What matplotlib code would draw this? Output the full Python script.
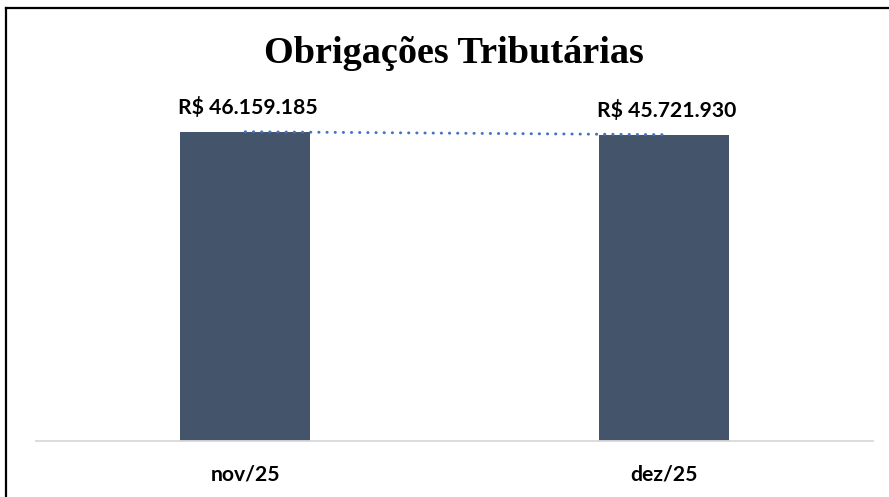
import matplotlib
matplotlib.use("Agg")
import matplotlib.pyplot as plt
import numpy as np
from matplotlib.lines import Line2D

categories = ["nov/25", "dez/25"]
values = [46159185, 45721930]
value_labels = ["R$ 46.159.185", "R$ 45.721.930"]
title = "Obrigações Tributárias"

W, H = 889, 497
fig = plt.figure(figsize=(W / 100, H / 100), dpi=100)
fig.patch.set_facecolor("white")

# axes placement in pixels
left_px, right_px, base_px, top_px = 36, 873, 441, 106
ax = fig.add_axes([left_px / W, (H - base_px) / H, (right_px - left_px) / W, (base_px - top_px) / H])

x = np.arange(len(categories))
ax.bar(x, values, width=0.31, color="#44546A", zorder=2)
ax.set_xlim(-0.5, len(categories) - 0.5)
ax.set_ylim(0, 50000000)

# linear trendline
coef = np.polyfit(x, values, 1)
ax.plot(x, np.polyval(coef, x), color="#4472C4", lw=2.1,
        linestyle=(0, (0.1, 2.7)), dash_capstyle="round", zorder=3)

lab_font = dict(family=["Lato", "DejaVu Sans"], weight="bold", size=15.2)
for xi, v, t in zip(x, values, value_labels):
    ax.annotate(t, xy=(xi, v), xytext=(2, 13), textcoords="offset points",
                ha="center", va="baseline", color="black", **lab_font)

ax.set_xticks(x)
ax.set_xticklabels(categories, fontdict=lab_font)
ax.tick_params(axis="x", length=0, pad=17)
ax.set_yticks([])
for s in ["left", "right", "top"]:
    ax.spines[s].set_visible(False)
ax.spines["bottom"].set_color("#D9D9D9")
ax.spines["bottom"].set_linewidth(1.3)
ax.set_facecolor("none")

fig.text(454 / W, (H - 63) / H, title, ha="center", va="baseline",
         family=["Liberation Serif", "DejaVu Serif"], weight="bold", size=27.5)

# border (top and left only, as in reference)
fig.add_artist(Line2D([6 / W, 1.0], [1 - 8 / H, 1 - 8 / H], color="black", lw=1.6, transform=fig.transFigure))
fig.add_artist(Line2D([6 / W, 6 / W], [0, 1 - 8 / H], color="black", lw=1.6, transform=fig.transFigure))

fig.savefig("out.png", dpi=100)
